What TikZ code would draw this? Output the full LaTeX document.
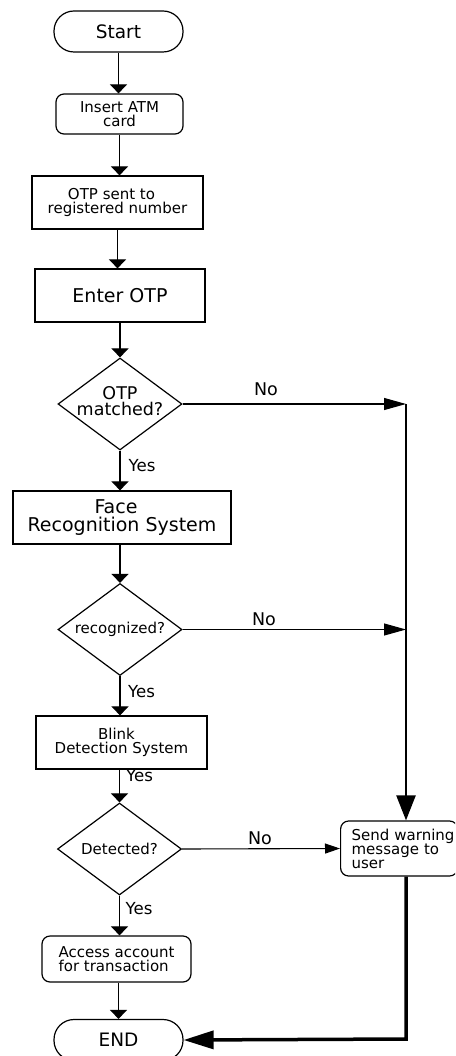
\documentclass[tikz,border=0pt]{standalone}
\usepackage{fontspec}
\setmainfont{DejaVu Sans}
\usetikzlibrary{shapes.geometric,arrows.meta}
\tikzset{
  sm/.style={font=\fontsize{15}{14.5}\selectfont},
  md/.style={font=\fontsize{17.5}{16.5}\selectfont},
  lg/.style={font=\fontsize{19}{18.5}\selectfont},
  boxr/.style={draw, line width=1.2pt, align=center, inner sep=0pt},
  stadium/.style={boxr, rounded corners=20pt, minimum width=129pt, minimum height=41pt, font=\fontsize{18.5}{18}\selectfont},
  rbox/.style={boxr, rounded corners=8pt, sm},
  dec/.style={diamond, draw, line width=1.2pt, minimum width=124pt, minimum height=92pt, inner sep=0pt},
  dtext/.style={align=center, inner sep=0pt},
  arr/.style={line width=1.1pt, -{Triangle[width=17pt,length=9pt]}},
  noarr/.style={line width=1.1pt, -{Triangle[width=12pt,length=22pt]}},
  lab/.style={font=\fontsize{17.5}{17}\selectfont, inner sep=0pt},
  ylab/.style={font=\fontsize{16.6}{16}\selectfont, inner sep=0pt},
}
\begin{document}
\begin{tikzpicture}[x=1pt,y=-1pt]
\useasboundingbox (0,0) rectangle (455,1056);
\clip (0,0) rectangle (455,1056);
\fill[white] (0,0) rectangle (455,1056);

\node[stadium] (start) at (118.5,31.5) {Start};
\node[rbox, minimum width=127pt, minimum height=40pt] (ins) at (119.5,114) {Insert ATM\\card};
\node[boxr, sm, minimum width=171pt, minimum height=53pt] (otps) at (117.5,202.5) {OTP sent to\hspace*{12pt}\\registered number};
\node[boxr, lg, minimum width=170pt, minimum height=53pt] (enter) at (120,295.5) {Enter OTP};
\node[dec] (d1) at (120,404) {};
\node[dtext, md] (d1t) at (120,401) {OTP\\matched?};
\node[boxr, lg, minimum width=218pt, minimum height=53pt] (face) at (122,517.5) {Face\hspace*{12pt}\\Recognition System};
\node[dec] (d2) at (120,629.5) {};
\node[dtext, sm] (d2t) at (120,629) {recognized?};
\node[boxr, sm, minimum width=171pt, minimum height=53pt] (blink) at (121.5,742.5) {Blink\hspace*{10pt}\\Detection System};
\node[dec] (d3) at (119.5,849) {};
\node[dtext, sm] (d3t) at (119.5,849) {Detected?};
\node[rbox, align=left, minimum width=149pt, minimum height=46pt] (acc) at (116.5,959) {Access account\\for transaction};
\node[stadium] (end) at (118.5,1040) {END};
\node[rbox, align=left, text width=95pt, inner xsep=11pt, minimum height=55pt, anchor=west, font=\fontsize{15}{13.5}\selectfont] (warn) at (340,848.5) {\mbox{Send warning}\\message to\\user};

\coordinate (j1) at (406,404);
\coordinate (j2) at (406,629.5);
\coordinate (j3) at (406,1039);

\draw[arr] (start.south) -- (start.south |- ins.north);
\draw[arr] (ins.south) -- (ins.south |- otps.north);
\draw[arr] (otps.south) -- (otps.south |- enter.north);
\draw[arr] (enter.south -| d1.north) -- (d1.north);
\draw[arr] (d1.south) -- (d1.south |- face.north);
\draw[arr] (face.south -| d2.north) -- (d2.north);
\draw[arr] (d2.south) -- (d2.south |- blink.north);
\draw[arr] (blink.south -| d3.north) -- (d3.north);
\draw[arr] (d3.south) -- (d3.south |- acc.north);
\draw[arr] (acc.south -| end.north) -- (end.north);

\draw[noarr] (d1.east) -- (j1);
\draw[noarr] (d2.east) -- (j2);
\draw[line width=1.1pt, -{Triangle[width=10pt,length=15pt]}] (d3.east) -- (warn.west);
\draw[line width=2.4pt, -{Triangle[width=19pt,length=25pt]}] (j1) -- (j1 |- warn.north);
\draw[line width=3.5pt, -{Triangle[width=18pt,length=30pt]}] (warn.south -| j1) -- (j3) -- (end.east);

\node[lab] (no1) at (266,389) {No};
\node[lab] (no2) at (264,619) {No};
\node[lab] (no3) at (260,838) {No};
\node[ylab] (y1) at (142,466) {Yes};
\node[ylab] (y2) at (141.5,692) {Yes};
\node[ylab] (y3) at (139.5,776) {Yes};
\node[ylab] (y4) at (139,909) {Yes};
\end{tikzpicture}
\end{document}
